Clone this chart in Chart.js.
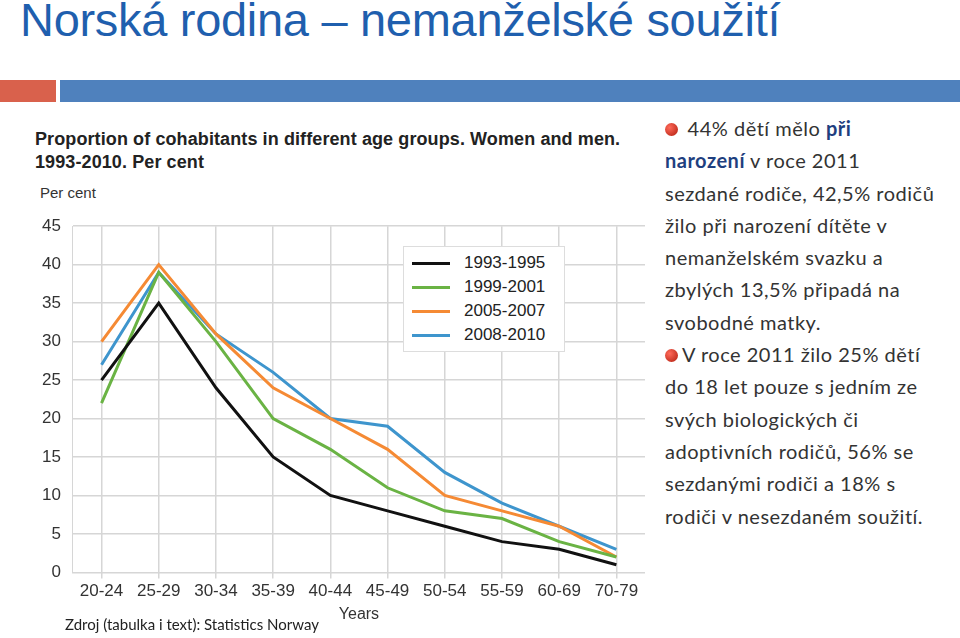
<!DOCTYPE html>
<html>
<head>
<meta charset="utf-8">
<script src="https://cdn.jsdelivr.net/npm/chart.js@4"></script>
<style>
  body { margin: 0; width: 960px; height: 638px; background: #fff; position: relative; overflow: hidden; font-family: "Lato", sans-serif; }
  #title { position: absolute; left: 20px; top: -8px; font-size: 47px; color: #1f5fae; font-family: "Liberation Sans", Arial, sans-serif; letter-spacing: -0.3px; }
  #barRed { position: absolute; left: 0; top: 80px; width: 56px; height: 22px; background: #d9614c; }
  #barBlue { position: absolute; left: 60px; top: 80px; width: 900px; height: 22px; background: #4f81bd; }
  #chartBox { position: absolute; left: 30px; top: 120px; width: 610px; height: 505px; }
  #ctitle { position: absolute; left: 5px; top: 8px; font: bold 18px "Liberation Sans", Arial, sans-serif; color: #222; line-height: 23px; letter-spacing: 0.1px; }
  #percent { position: absolute; left: 10px; top: 64px; font: 15px "Liberation Sans", Arial, sans-serif; color: #333; }
  #legend { position: absolute; left: 373px; top: 126px; width: 160px; padding: 4px 0; background: #fff; border: 1px solid #ddd; font: 17px "Liberation Sans", Arial, sans-serif; color: #222; }
  #legend div { display: flex; align-items: center; height: 24px; }
  #legend span.sw { display: inline-block; width: 38px; height: 3px; margin: 0 14px 0 8px; }
  #canvasWrap { position: absolute; left: 0; top: 84px; width: 615px; height: 420px; }
  #source { position: absolute; left: 65px; top: 615px; font-size: 15px; color: #222; }
  #text { position: absolute; left: 665px; top: 112px; width: 270px; font-size: 20px; line-height: 32.3px; color: #333; letter-spacing: 0.5px; }
  .bul { display: inline-block; width: 13px; height: 13px; border-radius: 50%; background: radial-gradient(circle at 35% 35%, #ff6a5a, #b01c0c); margin-right: 4px; }
</style>
</head>
<body>
<div id="title">Norská rodina – nemanželské soužití</div>
<div id="barRed"></div><div id="barBlue"></div>
<div id="chartBox">
  <div id="ctitle">Proportion of cohabitants in different age groups. Women and men.<br>1993-2010. Per cent</div>
  <div id="percent">Per cent</div>
  <div id="canvasWrap"><canvas id="chart"></canvas></div>
  <div id="legend"></div>
</div>
<div id="source">Zdroj (tabulka i text): Statistics Norway</div>
<div id="text">
  <span class="bul"></span> 44% dětí mělo <b style="color:#1f3f7f">při narození</b> v roce 2011 sezdané rodiče, 42,5% rodičů žilo při narození dítěte v nemanželském svazku a zbylých 13,5% připadá na svobodné matky.<br>
  <span class="bul"></span>V roce 2011 žilo 25% dětí do 18 let pouze s jedním ze svých biologických či adoptivních rodičů, 56% se sezdanými rodiči a 18% s rodiči v nesezdaném soužití.
</div>
<script>
const ageGroups = ['20-24', '25-29', '30-34', '35-39', '40-44', '45-49', '50-54', '55-59', '60-69', '70-79'];
const seriesNames = ['1993-1995', '1999-2001', '2005-2007', '2008-2010'];
const s1993 = [25, 35, 24, 15, 10, 8, 6, 4, 3, 1];
const s1999 = [22, 39, 30, 20, 16, 11, 8, 7, 4, 2];
const s2005 = [30, 40, 31, 24, 20, 16, 10, 8, 6, 2];
const s2008 = [27, 39, 31, 26, 20, 19, 13, 9, 6, 3];
const seriesColors = ['#111111', '#6ab344', '#f58a34', '#3e95cd'];
const yTicks = [0, 5, 10, 15, 20, 25, 30, 35, 40, 45];

const values = [s1993, s1999, s2005, s2008];

// legend as html
const legend = document.getElementById('legend');
seriesNames.forEach((name, i) => {
    const row = document.createElement('div');
    row.innerHTML = `<span class="sw" style="background:${seriesColors[i]}"></span>${name}`;
    legend.appendChild(row);
});

new Chart(document.getElementById('chart'), {
    type: 'line',
    data: {
        labels: ageGroups,
        datasets: seriesNames.map((name, i) => ({
            label: name,
            data: values[i],
            borderColor: seriesColors[i],
            borderWidth: 3,
            pointRadius: 0,
            tension: 0
        }))
    },
    options: {
        responsive: true,
        maintainAspectRatio: false,
        animation: false,
        layout: {padding: {left: 0, right: 0, top: 10, bottom: 0}},
        plugins: {legend: {display: false}, tooltip: {enabled: false}},
        scales: {
            x: {
                offset: true,
                grid: {offset: false, color: '#d6d6d6', lineWidth: 1.5, tickLength: 6},
                border: {color: '#d6d6d6'},
                ticks: {color: '#333', font: {size: 17, family: 'Liberation Sans'}, maxRotation: 0, autoSkip: false},
                title: {display: true, text: 'Years', color: '#333', padding: 0, font: {size: 16, family: 'Liberation Sans'}}
            },
            y: {
                min: 0, max: 45,
                afterBuildTicks: axis => { axis.ticks = yTicks.map(v => ({value: v})); },
                grid: {color: '#d6d6d6', lineWidth: 1.5, drawTicks: false},
                border: {color: '#d6d6d6'},
                ticks: {color: '#333', padding: 12, font: {size: 17, family: 'Liberation Sans'}}
            }
        }
    }
});
</script>
</body>
</html>
